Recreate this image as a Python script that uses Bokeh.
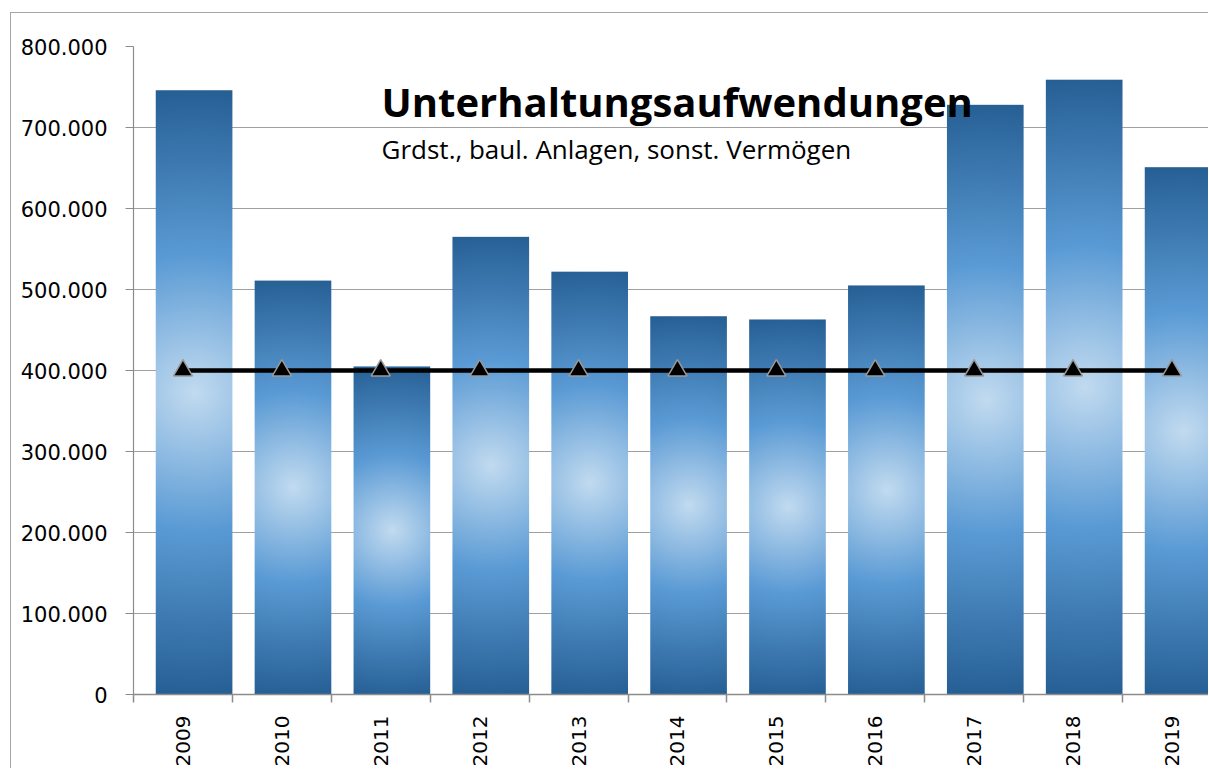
import numpy as np
from bokeh.plotting import figure
from bokeh.models import Range1d, FixedTicker, Label, ColumnDataSource
from bokeh.embed import file_html
from bokeh.resources import INLINE

# ---------------- data ----------------
years = ["2009", "2010", "2011", "2012", "2013", "2014", "2015", "2016", "2017", "2018", "2019"]
expenses = [746000, 511000, 405000, 565000, 522000, 467000, 463000, 505000, 728000, 759000, 651000]
average = [400000, 400000, 400000, 400000, 400000, 400000, 400000, 400000, 400000, 400000, 400000]
y_ticks = [0, 100000, 200000, 300000, 400000, 500000, 600000, 700000, 800000]
y_tick_labels = ["0", "100.000", "200.000", "300.000", "400.000", "500.000", "600.000", "700.000", "800.000"]
title_text = "Unterhaltungsaufwendungen"
subtitle_text = "Grdst., baul. Anlagen, sonst. Vermögen"

# ---------------- layout ----------------
OFF_X, OFF_Y = 11, 13          # chart-area border offset on the page
W, H = 1209 - OFF_X, 769 - OFF_Y
FRAME_LEFT, FRAME_TOP, FRAME_BOTTOM = 133 - OFF_X, 46 - OFF_Y, 694 - OFF_Y
CAT_PX = 98.9
Y_MAX = 800000
frame_h = FRAME_BOTTOM - FRAME_TOP
x_end = (W - FRAME_LEFT) / CAT_PX

n = len(years)
idx = np.arange(n)
centers = idx + 0.5
bar_w = 0.775
bar_left = idx + (1 - bar_w)

p = figure(width=W, height=H, output_backend="svg", toolbar_location=None,
           x_range=Range1d(0, x_end), y_range=Range1d(0, Y_MAX),
           min_border_left=FRAME_LEFT, min_border_top=FRAME_TOP,
           min_border_bottom=H - FRAME_BOTTOM, min_border_right=0)
p.outline_line_color = None
p.background_fill_color = "white"
p.border_fill_color = "white"
p.styles = {"margin-left": "10px", "margin-top": "12px",
            "border-left": "1px solid #a6a6a6", "border-top": "1px solid #a6a6a6"}


def bar_image(h_px, w_px):
    rows = max(int(round(h_px)), 2)
    cols = max(int(round(w_px)), 2)
    yy = (np.arange(rows) + 0.5) - rows / 2
    xx = (np.arange(cols) + 0.5) - cols / 2
    X, Y = np.meshgrid(xx, yy)
    R = np.hypot(cols / 2, rows / 2)
    t = np.clip(np.hypot(X, Y) / R, 0, 1)
    pos = [0.0, 0.45, 1.0]
    r = np.interp(t, pos, [194, 91, 38]).astype(np.uint32)
    g = np.interp(t, pos, [219, 155, 95]).astype(np.uint32)
    b = np.interp(t, pos, [240, 213, 148]).astype(np.uint32)
    a = np.full_like(r, 255)
    return (a << 24) | (b << 16) | (g << 8) | r


images = [bar_image(v / Y_MAX * frame_h, bar_w * CAT_PX) for v in expenses]
src = ColumnDataSource(dict(image=images, x=list(bar_left), y=[0] * n,
                            dw=[bar_w] * n, dh=expenses))
p.image_rgba(image="image", x="x", y="y", dw="dw", dh="dh", source=src)

# grid
p.xgrid.visible = False
p.ygrid.ticker = FixedTicker(ticks=y_ticks)
p.ygrid.grid_line_color = "#a0a0a0"
p.ygrid.grid_line_width = 1.2
p.ygrid.level = "underlay"

# average line with triangles
p.line(x=list(centers), y=average, line_color="black", line_width=4.5)
p.scatter(x=list(centers), y=average, marker="triangle", size=19,
          fill_color="black", line_color="#9a9a9a", line_width=1.5)

# y axis
ya = p.yaxis[0]
ya.ticker = FixedTicker(ticks=y_ticks, minor_ticks=[])
ya.major_label_overrides = {t: l for t, l in zip(y_ticks, y_tick_labels)}
ya.axis_line_color = "#8c8c8c"
ya.axis_line_width = 1.2
ya.major_tick_line_color = "#8c8c8c"
ya.major_tick_out = 8
ya.major_tick_in = 0
ya.minor_tick_out = 0
ya.minor_tick_in = 0
ya.major_label_standoff = 18
ya.major_label_text_font = "DejaVu Sans"
ya.major_label_text_font_size = "21px"
ya.major_label_text_color = "black"

# x axis
xa = p.xaxis[0]
xa.ticker = FixedTicker(ticks=list(centers), minor_ticks=list(range(n + 1)))
xa.major_label_overrides = {float(c): y for c, y in zip(centers, years)}
xa.major_label_orientation = np.pi / 2
xa.axis_line_color = "#8c8c8c"
xa.axis_line_width = 1.5
xa.major_tick_out = 0
xa.major_tick_in = 0
xa.minor_tick_out = 8
xa.minor_tick_in = 0
xa.minor_tick_line_color = "#8c8c8c"
xa.minor_tick_line_width = 1.5
xa.major_label_standoff = 13
xa.major_label_text_font = "DejaVu Sans"
xa.major_label_text_font_size = "20px"
xa.major_label_text_color = "black"

# titles
p.add_layout(Label(x=2.508, y=732000, text=title_text, text_font="Open Sans",
                   text_font_style="bold", text_font_size="40px", text_color="black",
                   text_baseline="alphabetic", text_align="left"))
p.add_layout(Label(x=2.508, y=673000, text=subtitle_text, text_font="Open Sans",
                   text_font_size="26px", text_color="black",
                   text_baseline="alphabetic", text_align="left"))

open("out.html", "w").write(file_html(p, INLINE))
